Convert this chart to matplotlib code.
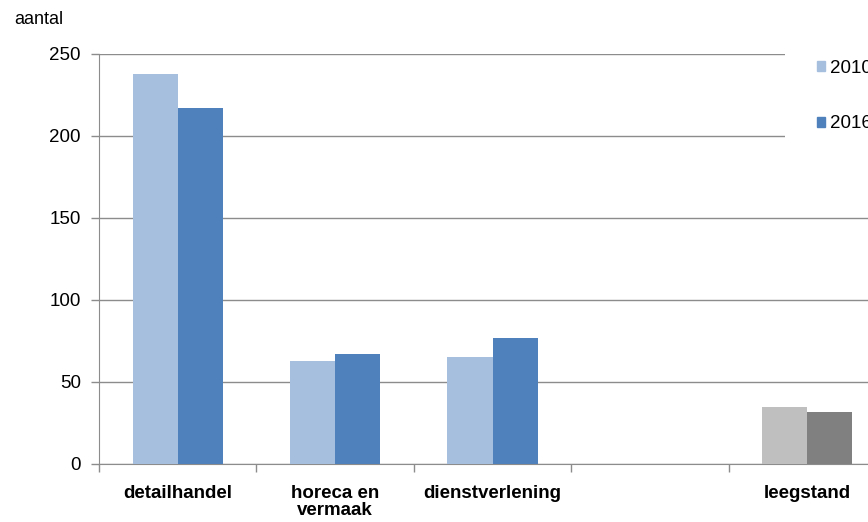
import matplotlib
matplotlib.use("Agg")
import matplotlib.pyplot as plt
import numpy as np
from matplotlib.patches import Patch, Rectangle

categories = ["detailhandel", "horeca en\nvermaak", "dienstverlening", "", "leegstand"]
series_labels = ["2010", "2016"]
values_2010 = [238, 63, 65, 0, 35]
values_2016 = [217, 67, 77, 0, 32]
y_ticks = [0, 50, 100, 150, 200, 250]

plt.rcParams['font.family'] = ['Liberation Sans', 'DejaVu Sans']

fig = plt.figure(figsize=(8.68, 5.22), dpi=100)
ax = fig.add_axes([99/868, 1-464/522, (886-99)/868, (464-54)/522])

x = np.arange(len(categories))
w = 0.286
light_cols = ['#A7BFDE'] * 4 + ['#BFBFBF']
dark_cols = ['#4F81BD'] * 4 + ['#808080']
ax.bar(x - w/2, values_2010, w, color=light_cols, label=series_labels[0], zorder=3)
ax.bar(x + w/2, values_2016, w, color=dark_cols, label=series_labels[1], zorder=3)

ax.set_xlim(-0.5, len(categories) - 0.5)
ax.set_ylim(0, 250)
ax.set_yticks(y_ticks)
ax.set_yticklabels([str(t) for t in y_ticks], fontsize=13.5)
ax.yaxis.grid(True, color='#8C8C8C', linewidth=1, zorder=0)
ax.set_axisbelow(True)

ax.set_xticks(x)
ax.set_xticklabels(categories, fontsize=13.5, fontweight='bold', linespacing=1.05)
ax.tick_params(axis='x', length=0, pad=15)
ax.set_xticks(np.arange(len(categories) + 1) - 0.5, minor=True)
ax.tick_params(axis='x', which='minor', length=6, color='#8C8C8C', width=1)
ax.tick_params(axis='y', length=6, color='#8C8C8C', width=1, pad=7)

for s in ['top', 'right']:
    ax.spines[s].set_visible(False)
ax.spines['left'].set_color('#8C8C8C')
ax.spines['bottom'].set_color('#8C8C8C')

fig.text(14/868, 1-20/522, "aantal", fontsize=13, va='center', ha='left')

# white legend area covering the gridlines behind it
fig.patches.append(Rectangle((785/868, 1-170/522), (868-785)/868, 130/522,
                             transform=fig.transFigure, facecolor='white',
                             edgecolor='none', zorder=5))

handles = [Patch(color='#A7BFDE'), Patch(color='#4F81BD')]
leg = fig.legend(handles, series_labels, loc='upper left',
                 bbox_to_anchor=(817/868, 1-60/522), fontsize=13.5,
                 frameon=False, handlelength=0.45, handleheight=0.45,
                 handletextpad=0.25, labelspacing=2.05, borderpad=0,
                 borderaxespad=0)
leg.set_zorder(6)

fig.savefig("out.png", dpi=100)
